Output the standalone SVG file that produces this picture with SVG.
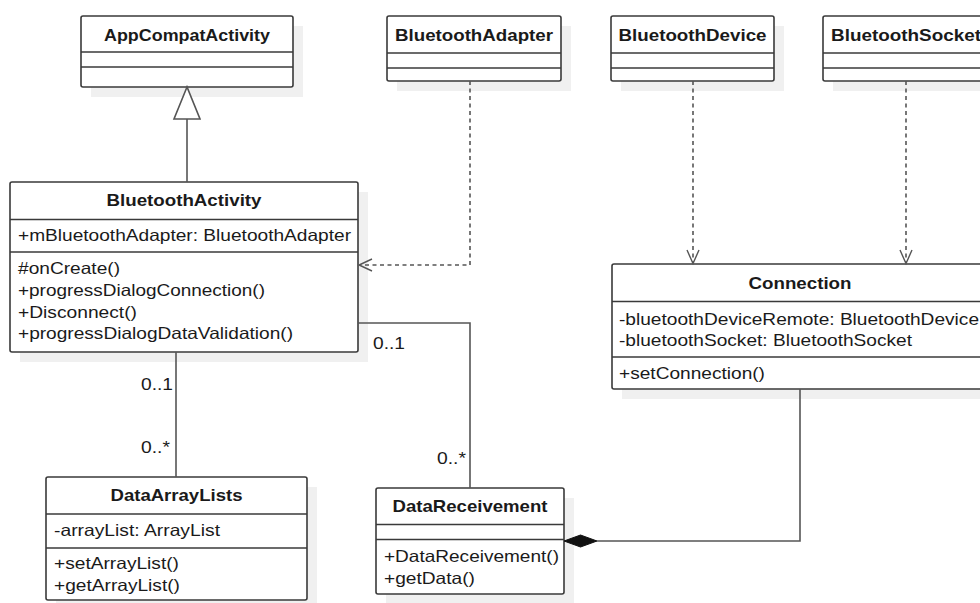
<svg xmlns="http://www.w3.org/2000/svg" width="980" height="603" viewBox="0 0 980 603">
<style>
.bg{fill:#ffffff}
.sh{fill:#f0f0f0}
.box{fill:#ffffff;stroke:#3a3a3a;stroke-width:1.6}
.dv{stroke:#3a3a3a;stroke-width:1.6}
.t{font-family:"Liberation Sans",Arial,Helvetica,sans-serif;font-size:16.5px;fill:#1a1a1a}
.b{font-weight:bold;font-size:17px;text-anchor:middle}
.edge{fill:none;stroke:#555555;stroke-width:1.6}
.dash{stroke-dasharray:4 3.5}
.head{fill:none;stroke:#555555;stroke-width:1.4}
</style>
<rect class="bg" x="0" y="0" width="980" height="603"/>

<g id="AppCompatActivity">
<rect class="sh" x="91" y="26" width="212" height="71"/>
<rect class="box" x="81" y="16" width="212" height="71" rx="2"/>
<line class="dv" x1="81" y1="52" x2="293" y2="52"/>
<line class="dv" x1="81" y1="67" x2="293" y2="67"/>
<text class="t b" x="187" y="41" textLength="166" lengthAdjust="spacingAndGlyphs">AppCompatActivity</text>
</g>

<g id="BluetoothAdapter">
<rect class="sh" x="397" y="26" width="174" height="65"/>
<rect class="box" x="387" y="16" width="174" height="65" rx="2"/>
<line class="dv" x1="387" y1="53" x2="561" y2="53"/>
<line class="dv" x1="387" y1="68" x2="561" y2="68"/>
<text class="t b" x="474" y="41" textLength="158" lengthAdjust="spacingAndGlyphs">BluetoothAdapter</text>
</g>

<g id="BluetoothDevice">
<rect class="sh" x="621" y="26" width="163" height="65"/>
<rect class="box" x="611" y="16" width="163" height="65" rx="2"/>
<line class="dv" x1="611" y1="53" x2="774" y2="53"/>
<line class="dv" x1="611" y1="68" x2="774" y2="68"/>
<text class="t b" x="692.5" y="41" textLength="148" lengthAdjust="spacingAndGlyphs">BluetoothDevice</text>
</g>

<g id="BluetoothSocket">
<rect class="sh" x="833" y="26" width="166" height="65"/>
<rect class="box" x="823" y="16" width="166" height="65" rx="2"/>
<line class="dv" x1="823" y1="53" x2="989" y2="53"/>
<line class="dv" x1="823" y1="68" x2="989" y2="68"/>
<text class="t b" x="906" y="41" textLength="150" lengthAdjust="spacingAndGlyphs">BluetoothSocket</text>
</g>

<g id="BluetoothActivity">
<rect class="sh" x="20" y="192" width="348" height="170"/>
<rect class="box" x="10" y="182" width="348" height="170" rx="2"/>
<line class="dv" x1="10" y1="219.5" x2="358" y2="219.5"/>
<line class="dv" x1="10" y1="252" x2="358" y2="252"/>
<text class="t b" x="184" y="206" textLength="155" lengthAdjust="spacingAndGlyphs">BluetoothActivity</text>
<text class="t" x="18" y="241" textLength="333" lengthAdjust="spacingAndGlyphs">+mBluetoothAdapter: BluetoothAdapter</text>
<text class="t" x="18" y="274" textLength="102" lengthAdjust="spacingAndGlyphs">#onCreate()</text>
<text class="t" x="18" y="296" textLength="247" lengthAdjust="spacingAndGlyphs">+progressDialogConnection()</text>
<text class="t" x="18" y="317.5" textLength="119" lengthAdjust="spacingAndGlyphs">+Disconnect()</text>
<text class="t" x="18" y="339" textLength="275" lengthAdjust="spacingAndGlyphs">+progressDialogDataValidation()</text>
</g>

<g id="Connection">
<rect class="sh" x="622" y="274" width="376" height="125"/>
<rect class="box" x="612" y="264" width="376" height="125" rx="2"/>
<line class="dv" x1="612" y1="301.5" x2="988" y2="301.5"/>
<line class="dv" x1="612" y1="357" x2="988" y2="357"/>
<text class="t b" x="800" y="289" textLength="103" lengthAdjust="spacingAndGlyphs">Connection</text>
<text class="t" x="619" y="325" textLength="360" lengthAdjust="spacingAndGlyphs">-bluetoothDeviceRemote: BluetoothDevice</text>
<text class="t" x="619" y="346" textLength="293" lengthAdjust="spacingAndGlyphs">-bluetoothSocket: BluetoothSocket</text>
<text class="t" x="619" y="379" textLength="146" lengthAdjust="spacingAndGlyphs">+setConnection()</text>
</g>

<g id="DataArrayLists">
<rect class="sh" x="56" y="487" width="261" height="123"/>
<rect class="box" x="46" y="477" width="261" height="123" rx="2"/>
<line class="dv" x1="46" y1="514" x2="307" y2="514"/>
<line class="dv" x1="46" y1="548" x2="307" y2="548"/>
<text class="t b" x="176.5" y="501" textLength="132" lengthAdjust="spacingAndGlyphs">DataArrayLists</text>
<text class="t" x="54" y="536" textLength="166" lengthAdjust="spacingAndGlyphs">-arrayList: ArrayList</text>
<text class="t" x="54" y="569" textLength="125" lengthAdjust="spacingAndGlyphs">+setArrayList()</text>
<text class="t" x="54" y="591" textLength="126" lengthAdjust="spacingAndGlyphs">+getArrayList()</text>
</g>

<g id="DataReceivement">
<rect class="sh" x="386" y="498" width="188" height="106"/>
<rect class="box" x="376" y="488" width="188" height="106" rx="2"/>
<line class="dv" x1="376" y1="524.5" x2="564" y2="524.5"/>
<line class="dv" x1="376" y1="539.5" x2="564" y2="539.5"/>
<text class="t b" x="470" y="512" textLength="155" lengthAdjust="spacingAndGlyphs">DataReceivement</text>
<text class="t" x="384" y="562" textLength="175" lengthAdjust="spacingAndGlyphs">+DataReceivement()</text>
<text class="t" x="384" y="583.5" textLength="91" lengthAdjust="spacingAndGlyphs">+getData()</text>
</g>

<g id="connectors">
<line class="edge" x1="187" y1="119" x2="187" y2="182"/>
<polygon points="187,87 174,119 200,119" fill="#ffffff" stroke="#555555" stroke-width="1.6"/>

<path class="edge dash" d="M470,81 V265 H360"/>
<polyline class="head" points="372,259 359,265 372,271"/>

<path class="edge dash" d="M693,81 V262"/>
<polyline class="head" points="687,250 693,263.5 699,250"/>

<path class="edge dash" d="M906,81 V262"/>
<polyline class="head" points="900,250 906,263.5 912,250"/>

<path class="edge" d="M176,352 V477"/>
<text class="t" x="141" y="390" textLength="32" lengthAdjust="spacingAndGlyphs">0..1</text>
<text class="t" x="141" y="453" textLength="29" lengthAdjust="spacingAndGlyphs">0..*</text>

<path class="edge" d="M358,323 H470 V488"/>
<text class="t" x="373" y="349" textLength="32" lengthAdjust="spacingAndGlyphs">0..1</text>
<text class="t" x="437" y="464" textLength="29" lengthAdjust="spacingAndGlyphs">0..*</text>

<path class="edge" d="M800,389 V541 H597"/>
<polygon points="564,541 580.5,535 597,541 580.5,547" fill="#111111" stroke="#111111" stroke-width="1"/>
</g>
</svg>
